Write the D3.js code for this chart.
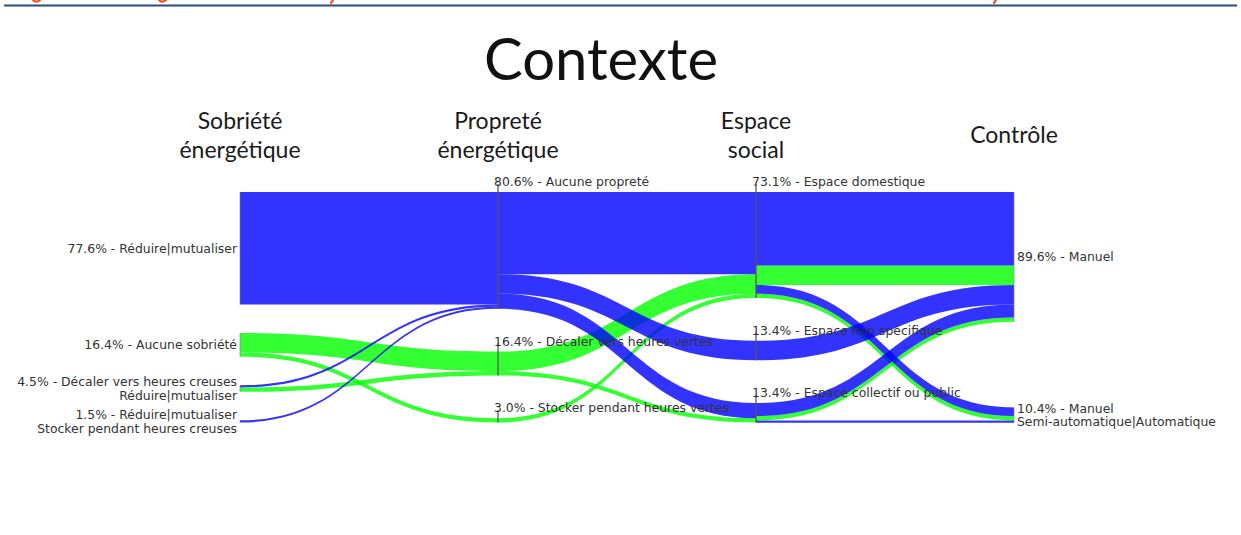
<!DOCTYPE html>
<html><head><meta charset="utf-8">
<script src="https://cdn.jsdelivr.net/npm/d3@7"></script>
<style>body{margin:0;background:#fff;}svg{display:block}</style>
</head><body>
<svg id="chart" width="1241" height="535"></svg>
<script>
// ---------- data ----------
const chartTitle = "Contexte";
const axisTitles = [["Sobriété","énergétique"],["Propreté","énergétique"],["Espace","social"],["Contrôle"]];
const axis1Nodes = ["Réduire|mutualiser","Aucune sobriété","Décaler vers heures creuses\nRéduire|mutualiser","Réduire|mutualiser\nStocker pendant heures creuses"];
const axis1Values = [77.6,16.4,4.5,1.5];
const axis2Nodes = ["Aucune propreté","Décaler vers heures vertes","Stocker pendant heures vertes"];
const axis2Values = [80.6,16.4,3.0];
const axis3Nodes = ["Espace domestique","Espace non spécifique","Espace collectif ou public"];
const axis3Values = [73.1,13.4,13.4];
const axis4Nodes = ["Manuel","Manuel\nSemi-automatique|Automatique"];
const axis4Values = [89.6,10.4];
const colorGroups = ["Aucune propreté","Autre propreté"];
// links: [sourceNode, targetNode, colorGroup, value %]
const links12 = [[0,0,0,77.6],[1,1,1,13.4],[1,2,1,3.0],[2,0,0,1.5],[2,1,1,3.0],[3,0,0,1.5]];
const links23 = [[0,0,0,56.7],[0,1,0,13.4],[0,2,0,10.4],[1,0,1,13.4],[1,2,1,3.0],[2,0,1,3.0]];
const links34 = [[0,0,0,50.7],[0,0,1,13.4],[0,1,0,6.0],[0,1,1,3.0],[1,0,0,13.4],[2,0,0,9.0],[2,0,1,3.0],[2,1,0,1.5]];

// ---------- layout ----------
const svg = d3.select("#chart");
const axisNodes = [axis1Nodes,axis2Nodes,axis3Nodes,axis4Nodes];
const axisValues = [axis1Values,axis2Values,axis3Values,axis4Values];
const segments = [links12,links23,links34];
const x = d3.scalePoint().domain([0,1,2,3]).range([240,1014]);
const yTop = 192, yBottom = 422.5;
const h = d3.scaleLinear().domain([0,100]).range([0,145]);
const color = d3.scaleOrdinal().domain([0,1]).range(["#0000ff","#00ff00"]);

const layout = axisValues.map(vals=>{
  const total = d3.sum(vals,v=>h(v));
  const gap = (yBottom-yTop-total)/(vals.length-1);
  let y = yTop;
  return vals.map(v=>{const y0=y,y1=y+h(v); y=y1+gap; return {y0,y1};});
});

// page header rule and the cut-off fragments of the page heading above it
svg.append("line").attr("x1",4).attr("x2",1237).attr("y1",5.5).attr("y2",5.5)
  .attr("stroke","#244f80").attr("stroke-width",2.2);
const frag = svg.append("g").attr("fill","none").attr("stroke","#ff4a14").attr("stroke-width",2.2).attr("stroke-linecap","round");
frag.append("path").attr("d","M33,0 Q36,3.5 40,0");
frag.append("path").attr("d","M159,0 Q162,3.5 166,0");
frag.append("path").attr("d","M333,0 L331,3");
frag.append("path").attr("d","M996,0 L994,3");

// title
svg.append("text").attr("x",601).attr("y",80).attr("text-anchor","middle")
  .attr("font-family","Lato, sans-serif").attr("font-size",58).attr("fill","#111").text(chartTitle);

// axis titles
axisTitles.forEach((lines,i)=>{
  const t = svg.append("text").attr("text-anchor","middle").attr("font-family","Lato, sans-serif")
    .attr("font-size",23).attr("fill","#1a1a1a");
  const base = lines.length===1 ? 143 : 129;
  lines.forEach((l,j)=>t.append("tspan").attr("x",x(i)).attr("y",base+j*28.5).text(l));
});

// build link geometry
const linkData = [];
segments.forEach((links,si)=>{
  const objs = links.map(([s,t,g,v])=>({s,t,g,v,si}));
  const srcL = layout[si], tgtL = layout[si+1];
  d3.group(objs,d=>d.s).forEach((arr,s)=>{
    let y = srcL[s].y0;
    arr.sort((a,b)=>a.t-b.t||a.g-b.g).forEach(d=>{d.sy0=y; y+=h(d.v); d.sy1=y;});
  });
  d3.group(objs,d=>d.t).forEach((arr,t)=>{
    let y = tgtL[t].y0;
    arr.sort((a,b)=>a.s-b.s||a.g-b.g).forEach(d=>{d.ty0=y; y+=h(d.v); d.ty1=y;});
  });
  linkData.push(...objs);
});

function ribbon(d){
  const x0 = x(d.si), x1 = x(d.si+1), xm = (x0+x1)/2;
  const p = d3.path();
  p.moveTo(x0,d.sy0);
  p.bezierCurveTo(xm,d.sy0,xm,d.ty0,x1,d.ty0);
  p.lineTo(x1,d.ty1);
  p.bezierCurveTo(xm,d.ty1,xm,d.sy1,x0,d.sy1);
  p.closePath();
  return p.toString();
}

const ordered = linkData.slice().sort((a,b)=>b.g-a.g);
svg.append("g").selectAll("path").data(ordered).join("path")
  .attr("d",ribbon).attr("fill",d=>color(d.g)).attr("fill-opacity",0.8);

// node lines
layout.forEach((nodes,i)=>{
  nodes.forEach(n=>{
    const mid = (i===1||i===2);
    svg.append("line").attr("x1",x(i)).attr("x2",x(i))
      .attr("y1",mid? n.y0-8 : n.y0).attr("y2",n.y1)
      .attr("stroke",mid?"#555":"#7a7a9a").attr("stroke-width",mid?1.4:1)
      .attr("stroke-opacity",mid?0.9:0.6);
  });
});

// node labels
const fmt = v=>v.toFixed(1)+"%";
const lbl = svg.append("g").attr("font-family","DejaVu Sans, sans-serif").attr("font-size",12.4).attr("fill","#333");
axisNodes.forEach((names,i)=>{
  names.forEach((name,j)=>{
    const n = layout[i][j];
    const lines = (fmt(axisValues[i][j])+" - "+name).split("\n");
    const t = lbl.append("text");
    if(i===1||i===2){
      t.attr("text-anchor","start").append("tspan").attr("x",x(i)-4).attr("y",n.y0-6).text(lines[0]);
    } else {
      const cx = i===0 ? x(i)-3 : x(i)+3;
      t.attr("text-anchor", i===0?"end":"start");
      const lh = 13.5, c = (n.y0+n.y1)/2 - (lines.length-1)*lh/2;
      lines.forEach((l,k)=>t.append("tspan").attr("x",cx).attr("y",c+k*lh).attr("dy","0.36em").text(l));
    }
  });
});
</script>
</body></html>
